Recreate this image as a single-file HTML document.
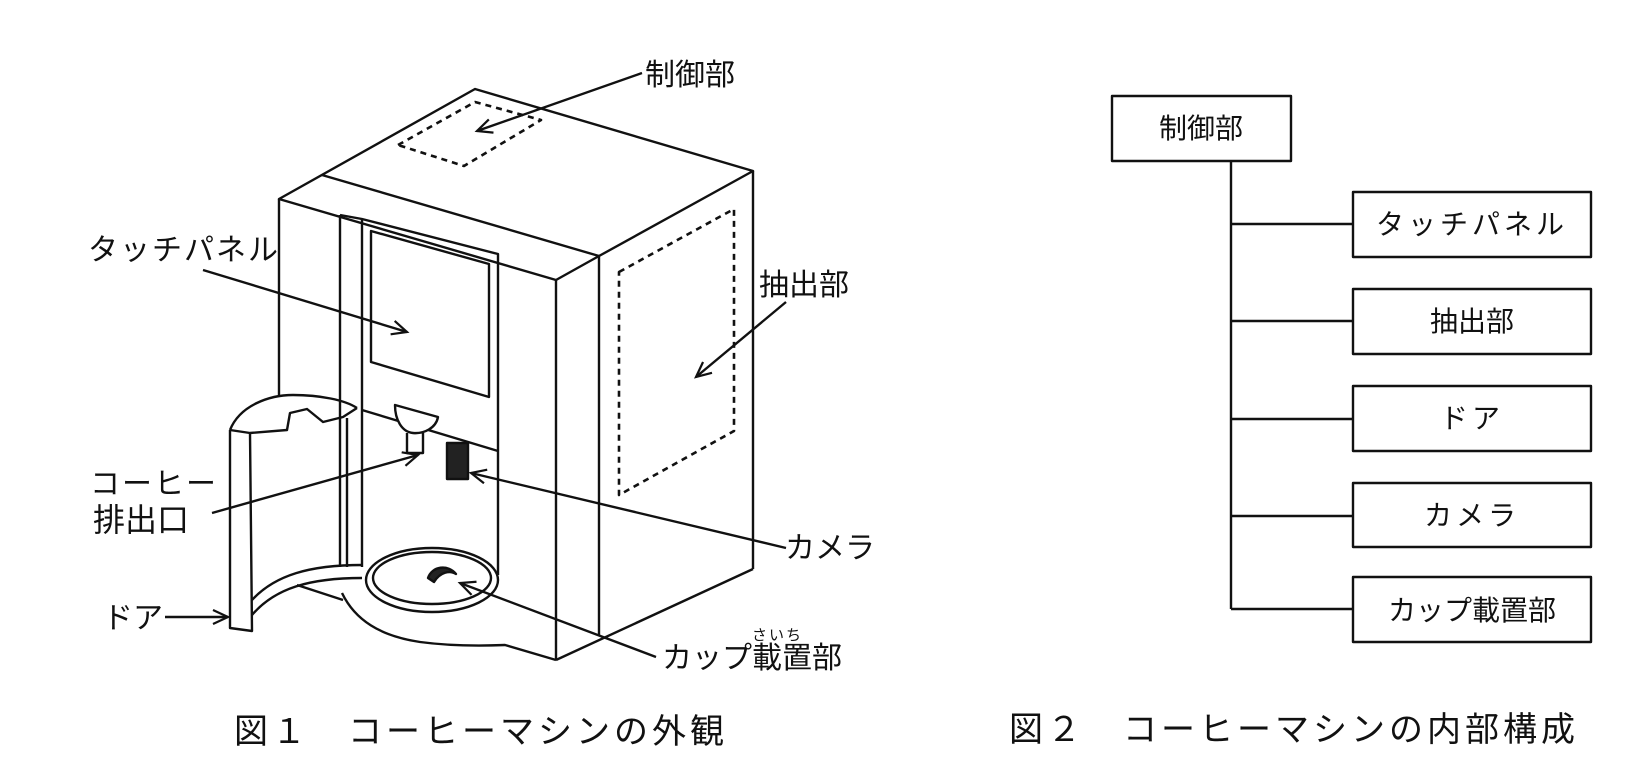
<!DOCTYPE html>
<html><head><meta charset="utf-8"><style>
html,body{margin:0;padding:0;background:#fff;}
svg{display:block;}
text{font-family:"Liberation Sans","Noto Sans CJK JP",sans-serif;fill:#111;}
</style></head><body>
<svg width="1652" height="776" viewBox="0 0 1652 776" xmlns="http://www.w3.org/2000/svg">
<defs>
<marker id="ah" markerWidth="20" markerHeight="20" refX="17" refY="8" orient="auto" markerUnits="userSpaceOnUse">
<path d="M2,1 L17,8 L2,15" fill="none" stroke="#111" stroke-width="2.2"/>
</marker>
</defs>
<g fill="none" stroke="#111" stroke-width="2.4" stroke-linejoin="round">
<path d="M279,199 L475,89 L753,171 L599,256 L556,280 Z"/>
<path d="M322,175 L599,256"/>
<path d="M279,199 L279,395"/>
<path d="M556,280 L556,660"/>
<path d="M599,256 L599,636"/>
<path d="M753,171 L753,569"/>
<path d="M556,660 L753,569"/>
<path d="M340,215 L362,219 L498,254 L498,575"/>
<path d="M340,215 L340,567"/>
<path d="M362,219 L362,567"/>
<path d="M371,231 L489,264 L489,397 L371,362 Z"/>
<path d="M362,410 L498,451"/>
<path d="M395,405 L438,417 C436,428 424,434 413,433 C402,432 395,420 395,405 Z" fill="#fff"/>
<path d="M407,433 L407,453 L423,453 L423,433"/>
<rect x="447" y="443" width="21" height="36" fill="#222"/>
<path d="M230,430 C240,405 270,395 293,395 C320,395 345,400 357,408"/>
<path d="M230,430 L250,433 L287,430 L290,413 L307,409 L323,422 L343,417 L357,408"/>
<path d="M230,430 L230,628 L252,631 L250,433"/>
<path d="M347,418 L347,567"/>
<path d="M252,600 C275,575 310,565 362,565"/>
<path d="M252,615 C275,588 310,578 362,578"/>
<path d="M297,585 L343,600"/>
<path d="M342,593 C355,620 380,636 420,642 C450,646 480,646 505,645 L556,660"/>
<ellipse cx="432" cy="580" rx="66" ry="32"/>
<ellipse cx="432" cy="578" rx="59" ry="26"/>
<path d="M428,578 C432,566 448,564 456,574 C450,570 440,572 434,582 Z" fill="#222"/>
<path d="M398,145 L475,102 L541,120 L464,166 Z" stroke-dasharray="6,5" stroke-width="2.6"/>
<path d="M619,272 L734,209 L734,431 L619,495 Z" stroke-dasharray="6,5" stroke-width="2.6"/>
<path d="M642,73 L477,131" marker-end="url(#ah)"/>
<path d="M786,302 L696,377" marker-end="url(#ah)"/>
<path d="M203,270 L407,332" marker-end="url(#ah)"/>
<path d="M212,513 L418,455" marker-end="url(#ah)"/>
<path d="M786,548 L471,473" marker-end="url(#ah)"/>
<path d="M656,657 L460,583" marker-end="url(#ah)"/>
<path d="M165,617 L228,617" marker-end="url(#ah)"/>
<rect x="1112" y="96" width="179" height="65"/>
<path d="M1231,161 L1231,609"/>
<path d="M1231,224 L1353,224 M1231,321 L1353,321 M1231,419 L1353,419 M1231,516 L1353,516 M1231,609 L1353,609"/>
<rect x="1353" y="192" width="238" height="65"/>
<rect x="1353" y="289" width="238" height="65"/>
<rect x="1353" y="386" width="238" height="65"/>
<rect x="1353" y="483" width="238" height="64"/>
<rect x="1353" y="577" width="238" height="65"/>
</g>
<g font-size="30">
<text x="645" y="85">制御部</text>
<text x="759" y="295">抽出部</text>
<text x="88" y="260" letter-spacing="2">タッチパネル</text>
<text x="90" y="494" letter-spacing="2">コーヒー</text>
<text x="93" y="531" font-size="32">排出口</text>
<text x="103" y="628">ドア</text>
<text x="785" y="558">カメラ</text>
<text x="662" y="668">カップ載置部</text>
<text x="752" y="640" font-size="15" letter-spacing="2">さいち</text>
</g>
<g font-size="28">
<text x="1201" y="138" text-anchor="middle">制御部</text>
<text x="1472" y="234" text-anchor="middle" letter-spacing="4">タッチパネル</text>
<text x="1472" y="331" text-anchor="middle">抽出部</text>
<text x="1472" y="428" text-anchor="middle" letter-spacing="4">ドア</text>
<text x="1472" y="525" text-anchor="middle" letter-spacing="4">カメラ</text>
<text x="1472" y="620" text-anchor="middle">カップ載置部</text>
</g>
<g font-size="34">
<text x="234" y="743" letter-spacing="4">図１　コーヒーマシンの外観</text>
<text x="1009" y="741" letter-spacing="4">図２　コーヒーマシンの内部構成</text>
</g>
</svg>
</body></html>
